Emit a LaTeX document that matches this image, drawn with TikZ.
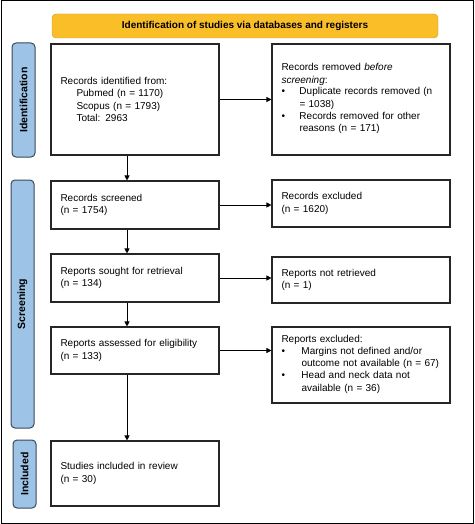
\documentclass[tikz,border=0pt]{standalone}
\usepackage{fontspec}
\setmainfont{Liberation Sans}
\usetikzlibrary{arrows.meta,positioning}
\definecolor{prisyellow}{RGB}{250,190,40}
\definecolor{prisblue}{RGB}{157,195,230}
\definecolor{prisedge}{RGB}{60,72,88}

\begin{document}
\begin{tikzpicture}[x=1pt,y=-1pt,font=\fontsize{10}{12.3}\selectfont,
      box/.style={draw=black!85,line width=1.1pt,align=left,inner xsep=9.5pt,inner ysep=0pt},
      lbox/.style={box,text width=149pt},
      rbox/.style={box,text width=159pt},
      side/.style={draw=prisedge,fill=prisblue,line width=1pt,rounded corners=4pt,rotate=90,
        minimum height=23pt,inner sep=0pt,font=\fontsize{10.5}{12}\selectfont\bfseries},
      a/.style={-{Triangle[length=5pt,width=5pt]},line width=0.7pt}]
      \useasboundingbox (0,0) rectangle (474,524);
      \draw[line width=1pt] (1,1) rectangle (473,523);
      % phases
      \node[side,minimum width=114pt] (sident) at (23.5,100) {Identification};
      \node[side,minimum width=248pt] (sscreen) at (22.5,304) {Screening};
      \node[side,minimum width=68pt] (sincl) at (24.5,474) {Included};
      \node[draw=prisyellow!80!black,fill=prisyellow,rounded corners=4pt,minimum width=386pt,
        minimum height=24pt,font=\fontsize{10}{12}\selectfont\bfseries] (head) at (245,26)
        {Identification of studies via databases and registers};
      % left column
      \node[lbox,minimum height=111pt] (ident) at (135,99.5) {Records identified from:\\
        \hspace*{16pt}Pubmed (n = 1170)\\ \hspace*{16pt}Scopus (n = 1793)\\ \hspace*{16pt}Total: 2963};
      \node[lbox,minimum height=48pt] (screened) at (135,205) {Records screened\\(n = 1754)};
      \node[lbox,minimum height=48pt] (sought) at (135,278) {Reports sought for retrieval\\(n = 134)};
      \node[lbox,minimum height=47pt] (assessed) at (135,350.5) {Reports assessed for eligibility\\(n = 133)};
      \node[lbox,minimum height=65pt] (incl) at (135,473.5) {Studies included in review\\(n = 30)};
      % right column
      \node[rbox,minimum height=111pt] (removed) at (361,99.5) {Records removed \emph{before}\\
        \emph{screening}:\\
        \begin{tabular}{@{}p{18pt}@{}l@{}}
          \textbullet & Duplicate records removed (n\\
                      & = 1038)\\
          \textbullet & Records removed for other\\
                      & reasons (n = 171)
        \end{tabular}};
      \node[rbox,minimum height=47pt] (excluded) at (361,203.5) {Records excluded\\(n = 1620)};
      \node[rbox,minimum height=46pt] (notret) at (361,280) {Reports not retrieved\\(n = 1)};
      \node[rbox,minimum height=76pt] (repexcl) at (361,365) {Reports excluded:\\
        \begin{tabular}{@{}p{20pt}@{}l@{}}
          \textbullet & Margins not defined and/or\\
                      & outcome not available (n = 67)\\
          \textbullet & Head and neck data not\\
                      & available (n = 36)
        \end{tabular}};
      % arrows
      \draw[a] ([xshift=-8pt]ident.south) -- ([xshift=-8pt]screened.north);
      \draw[a] ([xshift=-8pt]screened.south) -- ([xshift=-8pt]sought.north);
      \draw[a] ([xshift=-8pt]sought.south) -- ([xshift=-8pt]assessed.north);
      \draw[a] ([xshift=-8pt]assessed.south) -- ([xshift=-8pt]incl.north);
      \draw[a] (ident.east) -- (ident.east -| removed.west);
      \draw[a] (screened.east) -- (screened.east -| excluded.west);
      \draw[a] (sought.east) -- (sought.east -| notret.west);
      \draw[a] (assessed.east) -- (assessed.east -| repexcl.west);
    \end{tikzpicture}
\end{document}
